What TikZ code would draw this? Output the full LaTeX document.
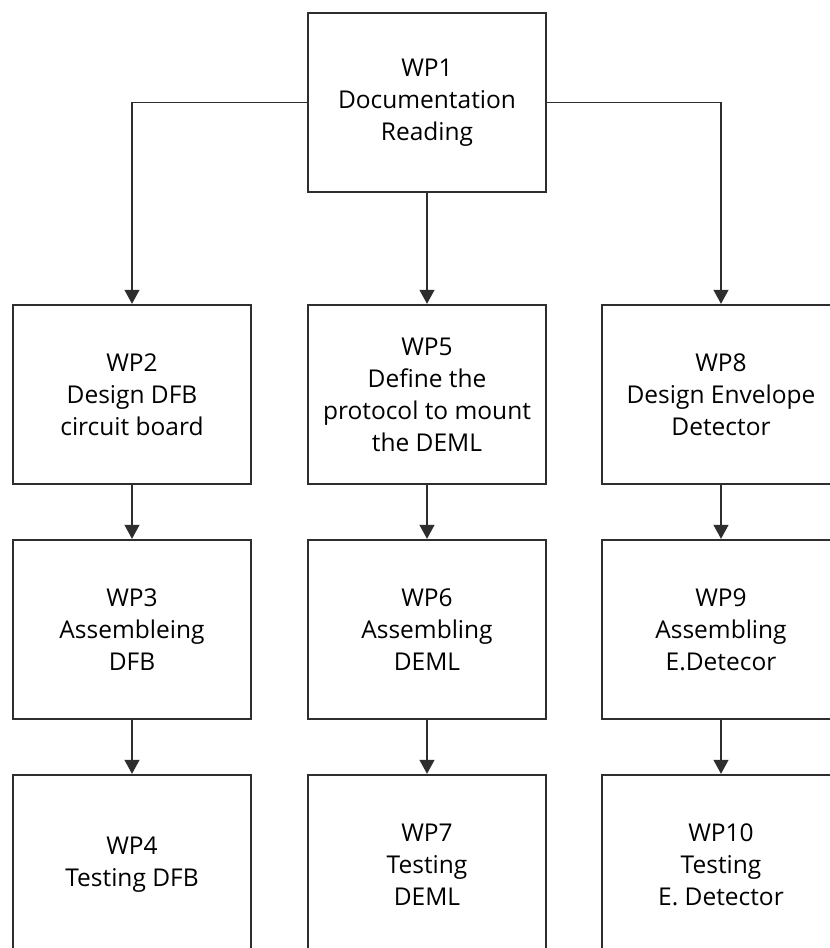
\documentclass[tikz,border=0pt]{standalone}
\usepackage{fontspec}
\setmainfont{Open Sans}
\usetikzlibrary{arrows.meta}
\definecolor{linegray}{HTML}{2E2E2E}
\begin{document}
\begin{tikzpicture}[x=1pt,y=-1pt,
  wpbox/.style={draw=linegray, line width=2.4pt, fill=white, minimum width=238pt, minimum height=179pt,
    inner sep=0pt, align=center, font=\fontsize{24.5}{32}\selectfont, text=black},
  conn/.style={draw=linegray, line width=1.2pt, -{Triangle[width=15pt,length=14pt]}}]
\useasboundingbox (0,0) rectangle (830,948);
\fill[white] (0,0) rectangle (830,948);
\clip (0,0) rectangle (830,948);
\node[wpbox] (wp1) at (427,102.3) {WP1\\Documentation\\Reading};
\node[wpbox] (wp2) at (132,394.5) {WP2\\Design DFB\\circuit board};
\node[wpbox] (wp5) at (427,394.5) {WP5\\Define the\\protocol to mount\\the DEML};
\node[wpbox] (wp8) at (721,394.5) {WP8\\Design Envelope\\Detector};
\node[wpbox] (wp3) at (132,629.5) {WP3\\Assembleing\\DFB};
\node[wpbox] (wp6) at (427,629.5) {WP6\\Assembling\\DEML};
\node[wpbox] (wp9) at (721,629.5) {WP9\\Assembling\\E.Detecor};
\node[wpbox] (wp4) at (132,864.5) {WP4\\Testing DFB};
\node[wpbox] (wp7) at (427,864.5) {WP7\\Testing\\DEML};
\node[wpbox] (wp10) at (721,864.5) {WP10\\Testing\\E. Detector};
\draw[conn] (wp1.west) -| (wp2.north);
\draw[conn] (wp1.south) -- (wp5.north);
\draw[conn] (wp1.east) -| (wp8.north);
\draw[conn] (wp2.south) -- (wp3.north);
\draw[conn] (wp5.south) -- (wp6.north);
\draw[conn] (wp8.south) -- (wp9.north);
\draw[conn] (wp3.south) -- (wp4.north);
\draw[conn] (wp6.south) -- (wp7.north);
\draw[conn] (wp9.south) -- (wp10.north);
\end{tikzpicture}
\end{document}
